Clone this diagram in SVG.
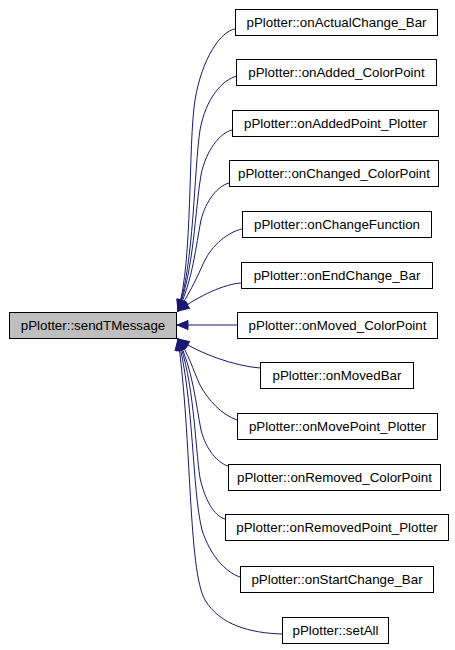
<svg xmlns="http://www.w3.org/2000/svg" width="455" height="650" viewBox="0 0 455 650">
<style>
.n rect{fill:#ffffff;stroke:#000000;stroke-width:1}
.m rect{fill:#bfbfbf;stroke:#000000;stroke-width:1}
text{font-family:"Liberation Sans",Arial,Helvetica,sans-serif;font-size:13.33px;fill:#000000;text-anchor:middle}
.e path{fill:none;stroke:#191970;stroke-width:1}
</style>
<defs>
<marker id="ah" markerUnits="userSpaceOnUse" markerWidth="13" markerHeight="11" viewBox="0 0 13 11" refX="12" refY="5.5" orient="auto">
<path d="M1,1 L12,5.5 L1,10 Z" fill="#191970" stroke="#191970" stroke-width="1"/>
</marker>
</defs>
<rect x="0" y="0" width="455" height="650" fill="#ffffff"/>
<g id="edges" class="e">
<path marker-end="url(#ah)" d="M235,29 C221,31 202,58 195,100 C188,145 193,260 178,311"/>
<path marker-end="url(#ah)" d="M237,76 C222,80 206,98 200,130 C194,170 194,265 178,311"/>
<path marker-end="url(#ah)" d="M232,130 C220,133 206,150 201,175 C195,210 194,270 178,311"/>
<path marker-end="url(#ah)" d="M229,183 C218,186 206,200 201,220 C196,245 193,280 178,311"/>
<path marker-end="url(#ah)" d="M242,229 C228,232 212,245 204,262 C196,280 188,296 178,311"/>
<path marker-end="url(#ah)" d="M241,283 C225,284 200,295 178,311"/>
<path marker-end="url(#ah)" d="M237,325 L177,325"/>
<path marker-end="url(#ah)" d="M260,368 C235,366 200,354 178,339"/>
<path marker-end="url(#ah)" d="M237,420 C222,415 208,400 200,385 C193,370 188,352 178,339"/>
<path marker-end="url(#ah)" d="M228,466 C218,463 206,450 201,430 C196,405 193,370 178,339"/>
<path marker-end="url(#ah)" d="M225,519 C214,516 205,500 200,478 C195,445 194,380 178,339"/>
<path marker-end="url(#ah)" d="M240,577 C225,572 210,555 202,530 C192,490 194,400 178,339"/>
<path marker-end="url(#ah)" d="M282,634 C250,633 220,625 205,600 C188,570 192,440 178,339"/>
</g>
<g id="sendTMessage" class="m"><rect x="9.5" y="312.5" width="167" height="26"/><text x="93" y="330">pPlotter::sendTMessage</text></g>
<g id="onActualChange_Bar" class="n"><rect x="235.5" y="9.5" width="202" height="26"/><text x="336.5" y="27">pPlotter::onActualChange_Bar</text></g>
<g id="onAdded_ColorPoint" class="n"><rect x="236.5" y="59.5" width="200" height="26"/><text x="336.5" y="77">pPlotter::onAdded_ColorPoint</text></g>
<g id="onAddedPoint_Plotter" class="n"><rect x="232.5" y="110.5" width="206" height="26"/><text x="335.5" y="128">pPlotter::onAddedPoint_Plotter</text></g>
<g id="onChanged_ColorPoint" class="n"><rect x="229.5" y="160.5" width="209" height="26"/><text x="334" y="178">pPlotter::onChanged_ColorPoint</text></g>
<g id="onChangeFunction" class="n"><rect x="242.5" y="211.5" width="189" height="26"/><text x="337" y="229">pPlotter::onChangeFunction</text></g>
<g id="onEndChange_Bar" class="n"><rect x="241.5" y="262.5" width="191" height="26"/><text x="337" y="280">pPlotter::onEndChange_Bar</text></g>
<g id="onMoved_ColorPoint" class="n"><rect x="237.5" y="312.5" width="200" height="26"/><text x="337.5" y="330">pPlotter::onMoved_ColorPoint</text></g>
<g id="onMovedBar" class="n"><rect x="260.5" y="362.5" width="153" height="26"/><text x="337" y="380">pPlotter::onMovedBar</text></g>
<g id="onMovePoint_Plotter" class="n"><rect x="237.5" y="413.5" width="200" height="26"/><text x="337.5" y="431">pPlotter::onMovePoint_Plotter</text></g>
<g id="onRemoved_ColorPoint" class="n"><rect x="228.5" y="464.5" width="212" height="26"/><text x="334.5" y="482">pPlotter::onRemoved_ColorPoint</text></g>
<g id="onRemovedPoint_Plotter" class="n"><rect x="225.5" y="514.5" width="223" height="26"/><text x="337" y="532">pPlotter::onRemovedPoint_Plotter</text></g>
<g id="onStartChange_Bar" class="n"><rect x="240.5" y="566.5" width="193" height="26"/><text x="337" y="584">pPlotter::onStartChange_Bar</text></g>
<g id="setAll" class="n"><rect x="282.5" y="617.5" width="106" height="26"/><text x="335.5" y="635">pPlotter::setAll</text></g>
</svg>
